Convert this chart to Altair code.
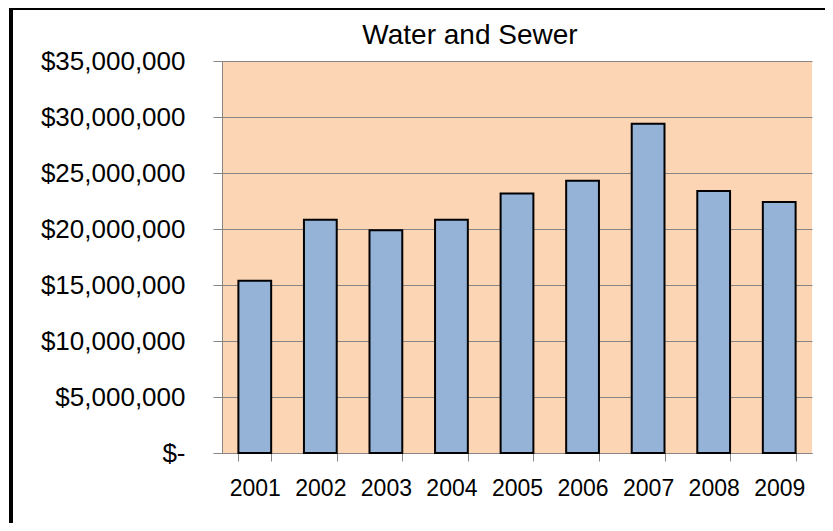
import altair as alt
import pandas as pd

years = ["2001", "2002", "2003", "2004", "2005", "2006", "2007", "2008", "2009"]
values = [15380000, 20830000, 19880000, 20830000, 23170000, 24300000, 29400000, 23400000, 22400000]
y_ticks = [0, 5000000, 10000000, 15000000, 20000000, 25000000, 30000000, 35000000]
title_text = "Water and Sewer"

df = pd.DataFrame({"year": years, "value": values})

W, H = 590, 392
PAD = {"left": 214, "top": 53, "right": 13, "bottom": 70}
GRAY = "#868686"
FONT = "Liberation Sans"

bars = alt.Chart(df).mark_bar(
    fill="#95B3D7", stroke="black", strokeWidth=2
).encode(
    x=alt.X("year:N", title=None,
            scale=alt.Scale(paddingInner=0.5, paddingOuter=0.25),
            axis=alt.Axis(labelAngle=0, tickBand="extent", domainColor=GRAY,
                          tickColor=GRAY, tickSize=8, labelFontSize=23,
                          labelFont=FONT, labelColor="black", labelPadding=16,
                          grid=False)),
    y=alt.Y("value:Q", title=None,
            scale=alt.Scale(domain=[0, 35000000], nice=False),
            axis=alt.Axis(values=y_ticks, gridColor=GRAY, gridWidth=1.2,
                          domainColor=GRAY, tickColor=GRAY, tickSize=9,
                          labelFontSize=26, labelFont=FONT, labelColor="black",
                          labelPadding=28,
                          labelExpr="datum.value == 0 ? '$-\u00a0\u00a0' : '$' + format(datum.value, ',')")),
)

one = pd.DataFrame({"t": [title_text]})

left_edge = alt.Chart(one).mark_rect(fill="black", strokeWidth=0).encode(
    x=alt.value(-213), x2=alt.value(-209),
    y=alt.value(-54), y2=alt.value(H + PAD["bottom"]),
)
top_edge = alt.Chart(one).mark_rect(fill="black", strokeWidth=0).encode(
    x=alt.value(-213), x2=alt.value(W + PAD["right"]),
    y=alt.value(-54), y2=alt.value(-51),
)

title = alt.Chart(one).mark_text(
    fontSize=28, font=FONT, color="black", baseline="alphabetic", align="center"
).encode(
    text="t:N", x=alt.value(248), y=alt.value(-17),
)

chart = alt.layer(bars, title, left_edge, top_edge).properties(
    width=W, height=H,
    autosize=alt.AutoSizeParams(type="none"),
    padding=PAD,
    background="white",
).configure_view(fill="#FCD5B5", stroke=None)

chart.save("out.html", embed_options={"renderer": "svg", "actions": False})
